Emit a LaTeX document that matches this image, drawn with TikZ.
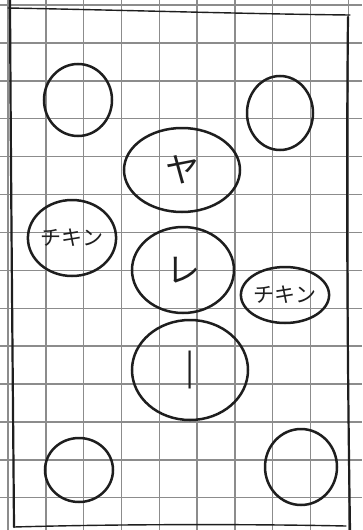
\documentclass[tikz,border=0pt]{standalone}
\usepackage{fontspec}
\newfontfamily\jpfont{Noto Sans CJK JP}
\usetikzlibrary{shapes.geometric}
\definecolor{ink}{HTML}{1E1E1E}
\definecolor{gridc}{HTML}{8C8C8C}
\tikzset{
  dish/.style={ellipse, draw=ink, line width=2.5pt, inner sep=0pt, text=ink,
               font=\jpfont\fontsize{34}{34}\selectfont},
  side/.style={dish, font=\jpfont\fontsize{21}{21}\selectfont},
  gridline/.style={gridc, line width=1.4pt},
  edge/.style={ink, line width=2.2pt, line cap=round},
}

\begin{document}
\begin{tikzpicture}[x=1pt, y=-1pt]
  \useasboundingbox (0,0) rectangle (362,530);
  \fill[white] (0,0) rectangle (362,530);
  % squared paper
  \foreach \k in {0,...,9}
    \draw[gridline] ({8+37.8*\k},0) -- ({8+37.8*\k},530);
  \foreach \k in {0,...,13}
    \draw[gridline] (0,{5+37.9*\k}) -- (362,{5+37.9*\k});
  % frame of the table
  \draw[edge] (10,0) .. controls (11,200) and (13,400) .. (14,527);
  \draw[edge, line width=1.4pt] (8,8) .. controls (120,10) and (250,14) .. (350,15);
  \draw[edge] (348,17) .. controls (346,200) and (348,400) .. (350,530);
  \draw[edge, line width=1.4pt] (14,527) .. controls (120,524) and (250,524) .. (346,526);

  % plates
  \node[dish, minimum width=68pt, minimum height=72pt] (tl) at (78,100) {};
  \node[dish, minimum width=66pt, minimum height=74pt] (tr) at (280,113) {};
  \node[dish, minimum width=116pt, minimum height=84pt] (ya) at (182,170) {ヤ};
  \node[side, minimum width=78pt, minimum height=76pt] (chkl) at (72,238) {チキン};
  \node[dish, minimum width=102pt, minimum height=86pt] (re) at (183,270) {レ};
  \node[side, minimum width=84pt, minimum height=56pt] (chkr) at (285,295) {チキン};
  \node[dish, minimum width=116pt, minimum height=100pt] (bar) at (190,370) {|};
  \node[dish, minimum width=68pt, minimum height=64pt] (bl) at (79,470) {};
  \node[dish, minimum width=72pt, minimum height=76pt] (br) at (301,467) {};
\end{tikzpicture}
\end{document}
